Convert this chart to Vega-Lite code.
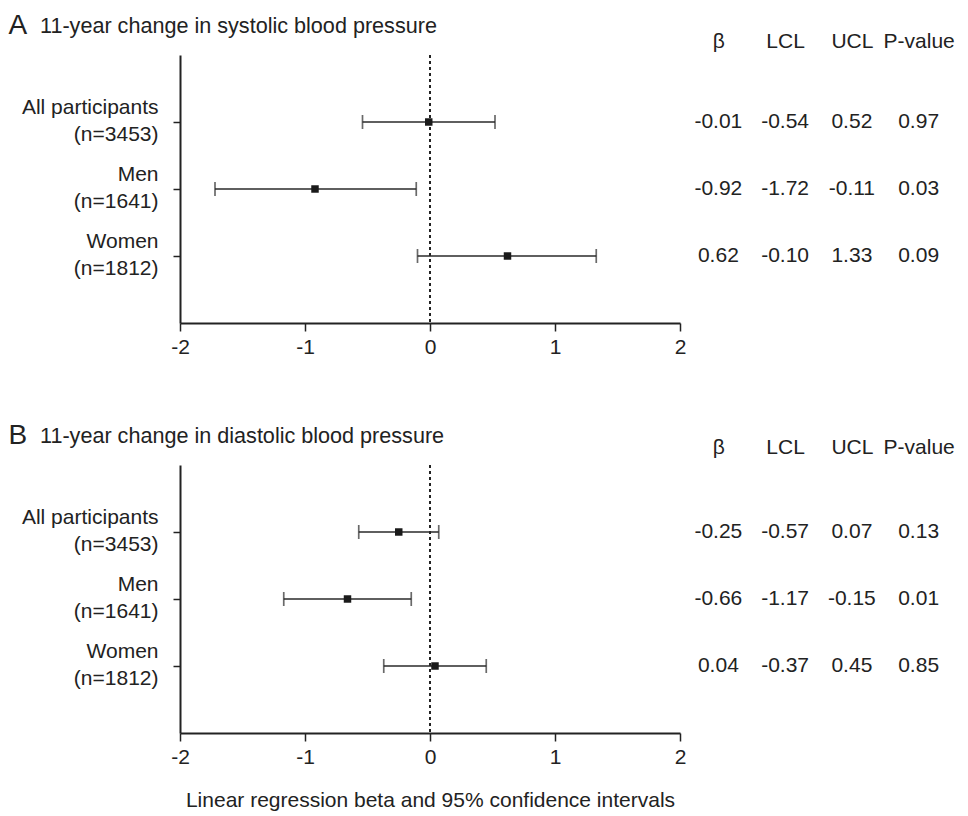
{
  "$schema": "https://vega.github.io/schema/vega-lite/v6.json",
  "padding": {"left": 8, "top": 11, "right": 5, "bottom": 5},
  "config": {
    "font": "Liberation Sans",
    "view": {"stroke": null},
    "locale": {"number": {"decimal": ".", "thousands": ",", "grouping": [3], "currency": ["$", ""], "minus": "-"}},
    "axis": {"domainColor": "#222", "domainWidth": 2, "tickColor": "#222", "tickWidth": 1.5, "labelColor": "#222", "labelFontSize": 21, "titleColor": "#222", "titleFontWeight": "normal", "titleFontSize": 21, "grid": false},
    "title": {"fontWeight": "normal", "fontSize": 21.6, "color": "#222"}
  },
  "datasets": {
    "rows": [
      {"panel": "A", "group": "All participants\n(n=3453)", "beta": -0.01, "lcl": -0.54, "ucl": 0.52, "p": 0.97},
      {"panel": "A", "group": "Men\n(n=1641)", "beta": -0.92, "lcl": -1.72, "ucl": -0.11, "p": 0.03},
      {"panel": "A", "group": "Women\n(n=1812)", "beta": 0.62, "lcl": -0.10, "ucl": 1.33, "p": 0.09},
      {"panel": "B", "group": "All participants\n(n=3453)", "beta": -0.25, "lcl": -0.57, "ucl": 0.07, "p": 0.13},
      {"panel": "B", "group": "Men\n(n=1641)", "beta": -0.66, "lcl": -1.17, "ucl": -0.15, "p": 0.01},
      {"panel": "B", "group": "Women\n(n=1812)", "beta": 0.04, "lcl": -0.37, "ucl": 0.45, "p": 0.85}
    ]
  },
  "bounds": "flush",
  "spacing": 410,
  "vconcat": [
    {
      "bounds": "flush",
      "spacing": 5,
      "hconcat": [
        {
          "width": 500,
          "height": 268,
          "title": {"text": "11-year change in systolic blood pressure", "anchor": "start", "frame": "group", "dx": -140, "offset": -27},
          "data": {"name": "rows"},
          "transform": [{"filter": "datum.panel == 'A'"}],
          "layer": [
            {
              "data": {"values": [{}]},
              "mark": {"type": "rule", "strokeDash": [3, 3], "strokeWidth": 2, "color": "#222"},
              "encoding": {"x": {"datum": 0, "type": "quantitative", "scale": {"domain": [-2, 2], "nice": false, "zero": false}}}
            },
            {
              "mark": {"type": "rule", "strokeWidth": 1.7, "color": "#2a2a2a"},
              "encoding": {
                "x": {"field": "lcl", "type": "quantitative", "scale": {"domain": [-2, 2], "nice": false, "zero": false}, "axis": {"values": [-2, -1, 0, 1, 2], "format": "d", "title": null, "tickSize": 8, "labelPadding": 5, "labelFlush": false}},
                "x2": {"field": "ucl"},
                "y": {"field": "group", "type": "nominal", "sort": null, "scale": {"type": "point", "domain": ["All participants\n(n=3453)", "Men\n(n=1641)", "Women\n(n=1812)"], "padding": 1}, "axis": {"title": "A", "titleAngle": 0, "titleFontSize": 28, "titleAlign": "left", "titleBaseline": "alphabetic", "titleX": -172, "titleY": -22, "labelExpr": "split(datum.value, '\\n')", "labelLineHeight": 27, "labelOffset": -15, "tickSize": 7, "labelPadding": 15, "labelAlign": "right", "labelBaseline": "middle"}}
              }
            },
            {
              "mark": {"type": "tick", "size": 14, "thickness": 1.7, "color": "#2a2a2a", "orient": "vertical"},
              "encoding": {
                "x": {"field": "lcl", "type": "quantitative", "scale": {"domain": [-2, 2], "nice": false, "zero": false}},
                "y": {"field": "group", "type": "nominal", "sort": null, "scale": {"type": "point", "domain": ["All participants\n(n=3453)", "Men\n(n=1641)", "Women\n(n=1812)"], "padding": 1}}
              }
            },
            {
              "mark": {"type": "tick", "size": 14, "thickness": 1.7, "color": "#2a2a2a", "orient": "vertical"},
              "encoding": {
                "x": {"field": "ucl", "type": "quantitative", "scale": {"domain": [-2, 2], "nice": false, "zero": false}},
                "y": {"field": "group", "type": "nominal", "sort": null, "scale": {"type": "point", "domain": ["All participants\n(n=3453)", "Men\n(n=1641)", "Women\n(n=1812)"], "padding": 1}}
              }
            },
            {
              "mark": {"type": "point", "shape": "square", "filled": true, "size": 56, "color": "#1a1a1a", "opacity": 1},
              "encoding": {
                "x": {"field": "beta", "type": "quantitative", "scale": {"domain": [-2, 2], "nice": false, "zero": false}},
                "y": {"field": "group", "type": "nominal", "sort": null, "scale": {"type": "point", "domain": ["All participants\n(n=3453)", "Men\n(n=1641)", "Women\n(n=1812)"], "padding": 1}}
              }
            }
          ]
        },
        {
          "width": 267,
          "height": 268,
          "data": {"name": "rows"},
          "transform": [{"filter": "datum.panel == 'A'"}, {"fold": ["beta", "lcl", "ucl", "p"], "as": ["col", "val"]}],
          "mark": {"type": "text", "fontSize": 21, "color": "#222"},
          "encoding": {
            "x": {"field": "col", "type": "nominal", "sort": null, "scale": {"type": "point", "domain": ["beta", "lcl", "ucl", "p"], "padding": 0.5}, "axis": {"orient": "top", "title": null, "domain": false, "ticks": false, "tickSize": 0, "labelPadding": 4, "labelAngle": 0, "labelExpr": "datum.value == 'beta' ? 'β' : datum.value == 'lcl' ? 'LCL' : datum.value == 'ucl' ? 'UCL' : 'P-value'"}},
            "y": {"field": "group", "type": "nominal", "sort": null, "scale": {"type": "point", "domain": ["All participants\n(n=3453)", "Men\n(n=1641)", "Women\n(n=1812)"], "padding": 1}, "axis": null},
            "text": {"field": "val", "type": "quantitative", "format": ".2f"}
          }
        }
      ]
    },
    {
      "bounds": "flush",
      "spacing": 5,
      "hconcat": [
        {
          "width": 500,
          "height": 268,
          "title": {"text": "11-year change in diastolic blood pressure", "anchor": "start", "frame": "group", "dx": -140, "offset": -27},
          "data": {"name": "rows"},
          "transform": [{"filter": "datum.panel == 'B'"}],
          "layer": [
            {
              "data": {"values": [{}]},
              "mark": {"type": "rule", "strokeDash": [3, 3], "strokeWidth": 2, "color": "#222"},
              "encoding": {"x": {"datum": 0, "type": "quantitative", "scale": {"domain": [-2, 2], "nice": false, "zero": false}}}
            },
            {
              "mark": {"type": "rule", "strokeWidth": 1.7, "color": "#2a2a2a"},
              "encoding": {
                "x": {"field": "lcl", "type": "quantitative", "scale": {"domain": [-2, 2], "nice": false, "zero": false}, "axis": {"values": [-2, -1, 0, 1, 2], "format": "d", "title": "Linear regression beta and 95% confidence intervals", "titlePadding": 22, "tickSize": 8, "labelPadding": 5, "labelFlush": false}},
                "x2": {"field": "ucl"},
                "y": {"field": "group", "type": "nominal", "sort": null, "scale": {"type": "point", "domain": ["All participants\n(n=3453)", "Men\n(n=1641)", "Women\n(n=1812)"], "padding": 1}, "axis": {"title": "B", "titleAngle": 0, "titleFontSize": 28, "titleAlign": "left", "titleBaseline": "alphabetic", "titleX": -172, "titleY": -22, "labelExpr": "split(datum.value, '\\n')", "labelLineHeight": 27, "labelOffset": -15, "tickSize": 7, "labelPadding": 15, "labelAlign": "right", "labelBaseline": "middle"}}
              }
            },
            {
              "mark": {"type": "tick", "size": 14, "thickness": 1.7, "color": "#2a2a2a", "orient": "vertical"},
              "encoding": {
                "x": {"field": "lcl", "type": "quantitative", "scale": {"domain": [-2, 2], "nice": false, "zero": false}},
                "y": {"field": "group", "type": "nominal", "sort": null, "scale": {"type": "point", "domain": ["All participants\n(n=3453)", "Men\n(n=1641)", "Women\n(n=1812)"], "padding": 1}}
              }
            },
            {
              "mark": {"type": "tick", "size": 14, "thickness": 1.7, "color": "#2a2a2a", "orient": "vertical"},
              "encoding": {
                "x": {"field": "ucl", "type": "quantitative", "scale": {"domain": [-2, 2], "nice": false, "zero": false}},
                "y": {"field": "group", "type": "nominal", "sort": null, "scale": {"type": "point", "domain": ["All participants\n(n=3453)", "Men\n(n=1641)", "Women\n(n=1812)"], "padding": 1}}
              }
            },
            {
              "mark": {"type": "point", "shape": "square", "filled": true, "size": 56, "color": "#1a1a1a", "opacity": 1},
              "encoding": {
                "x": {"field": "beta", "type": "quantitative", "scale": {"domain": [-2, 2], "nice": false, "zero": false}},
                "y": {"field": "group", "type": "nominal", "sort": null, "scale": {"type": "point", "domain": ["All participants\n(n=3453)", "Men\n(n=1641)", "Women\n(n=1812)"], "padding": 1}}
              }
            }
          ]
        },
        {
          "width": 267,
          "height": 268,
          "data": {"name": "rows"},
          "transform": [{"filter": "datum.panel == 'B'"}, {"fold": ["beta", "lcl", "ucl", "p"], "as": ["col", "val"]}],
          "mark": {"type": "text", "fontSize": 21, "color": "#222"},
          "encoding": {
            "x": {"field": "col", "type": "nominal", "sort": null, "scale": {"type": "point", "domain": ["beta", "lcl", "ucl", "p"], "padding": 0.5}, "axis": {"orient": "top", "title": null, "domain": false, "ticks": false, "tickSize": 0, "labelPadding": 8, "labelAngle": 0, "labelExpr": "datum.value == 'beta' ? 'β' : datum.value == 'lcl' ? 'LCL' : datum.value == 'ucl' ? 'UCL' : 'P-value'"}},
            "y": {"field": "group", "type": "nominal", "sort": null, "scale": {"type": "point", "domain": ["All participants\n(n=3453)", "Men\n(n=1641)", "Women\n(n=1812)"], "padding": 1}, "axis": null},
            "text": {"field": "val", "type": "quantitative", "format": ".2f"}
          }
        }
      ]
    }
  ]
}
